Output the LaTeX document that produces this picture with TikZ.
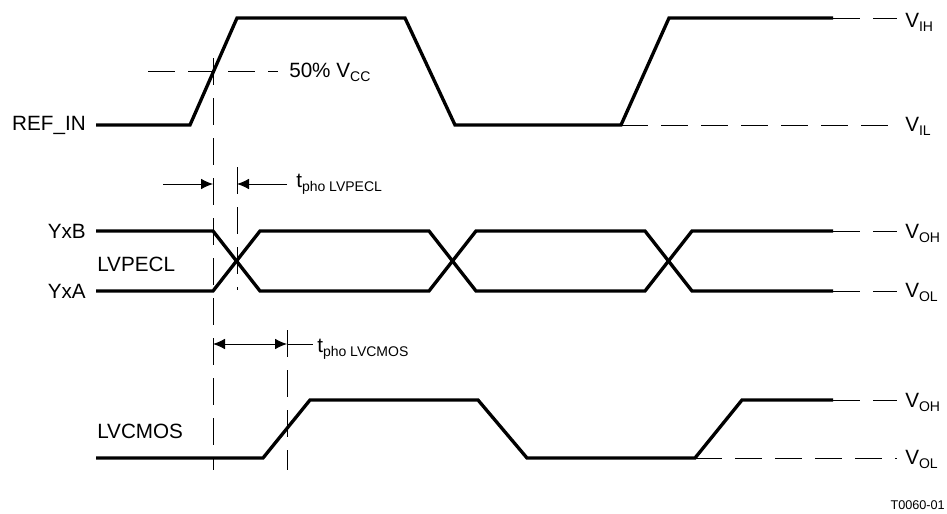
\documentclass[tikz,border=0pt]{standalone}
\usepackage{fontspec}
\setmainfont{Liberation Sans}
\usepackage{tikz}
\usetikzlibrary{arrows.meta}
\newcommand{\subtxt}[1]{\raisebox{-3pt}{\fontsize{10.5}{12}\selectfont #1}}
\tikzstyle{signal} = [line width=2.5pt, line join=miter]
\tikzstyle{refline} = [line width=0.75pt, dash pattern=on 20pt off 10pt]
\tikzstyle{sigtext} = [font=\fontsize{15.5}{18}\selectfont, inner sep=0pt]
\tikzstyle{lvltext} = [sigtext, anchor=base west]
\tikzstyle{arrow} = [line width=0.75pt, -{Latex[length=9pt,width=8pt]}]

\begin{document}
\begin{tikzpicture}[x=0.75pt, y=-0.75pt]
\useasboundingbox (0,0) rectangle (947,514);

% signal names
\node (RefIn) [sigtext, anchor=east] at (86,125) {REF\_IN};
\node (YxB) [sigtext, anchor=east] at (86,231) {YxB};
\node (YxA) [sigtext, anchor=east] at (86,291) {YxA};
\node (Lvpecl) [sigtext, anchor=west] at (97,264) {LVPECL};
\node (Lvcmos) [sigtext, anchor=west] at (97,431) {LVCMOS};

% waveforms
\draw [signal] (96,125) -- (190,125) -- (237,18) -- (405,18) -- (455,125) -- (621,125) -- (669,18) -- (833,18);
\draw [signal] (96,231) -- (213,231) -- (260,291) -- (429,291) -- (476,231) -- (645,231) -- (692,291) -- (833,291);
\draw [signal] (96,291) -- (213,291) -- (260,231) -- (429,231) -- (476,291) -- (645,291) -- (692,231) -- (833,231);
\draw [signal] (96,458) -- (263,458) -- (310,400) -- (478,400) -- (527,458) -- (695,458) -- (742,400) -- (833,400);

% levels
\draw [refline] (833,18) -- (897,18);
\draw [refline] (621,125) -- (897,125);
\draw [refline] (833,231) -- (897,231);
\draw [refline] (833,291) -- (897,291);
\draw [refline] (833,400) -- (897,400);
\draw [refline] (695,458) -- (897,458);
\node (Vih) [lvltext] at (905,27) {V\subtxt{IH}};
\node (Vil) [lvltext] at (905,131) {V\subtxt{IL}};
\node (Voh1) [lvltext] at (905,238) {V\subtxt{OH}};
\node (Vol1) [lvltext] at (905,297) {V\subtxt{OL}};
\node (Voh2) [lvltext] at (905,407) {V\subtxt{OH}};
\node (Vol2) [lvltext] at (905,464) {V\subtxt{OL}};

% 50% threshold and markers
\draw [refline] (148,71) -- (278,71);
\node (Half) [lvltext] at (289,77) {50\% V\subtxt{CC}};
\draw [refline] (213,58) -- (213,470);
\draw [refline] (237,167) -- (237,290);
\draw [refline] (287,330) -- (287,470);

% delays
\coordinate (p0) at (163,184);
\coordinate (p1) at (213,184);
\coordinate (p2) at (237,184);
\coordinate (p3) at (287,184);
\draw [arrow] (p0) -- (p1);
\draw [arrow] (p3) -- (p2);
\node (TphoPecl) [lvltext] at (296,187) {t\subtxt{pho LVPECL}};

\coordinate (c1) at (213,344);
\coordinate (c2) at (287,344);
\coordinate (c3) at (313,344);
\draw [line width=0.75pt, {Latex[length=9pt,width=8pt]}-{Latex[length=9pt,width=8pt]}] (c1) -- (c2);
\draw [line width=0.75pt] (c2) -- (c3);
\node (TphoCmos) [lvltext] at (317,352) {t\subtxt{pho LVCMOS}};

\node (Fig) [font=\fontsize{9.5}{11}\selectfont, inner sep=0pt, anchor=east] at (945,505) {T0060-01};
\end{tikzpicture}
\end{document}
